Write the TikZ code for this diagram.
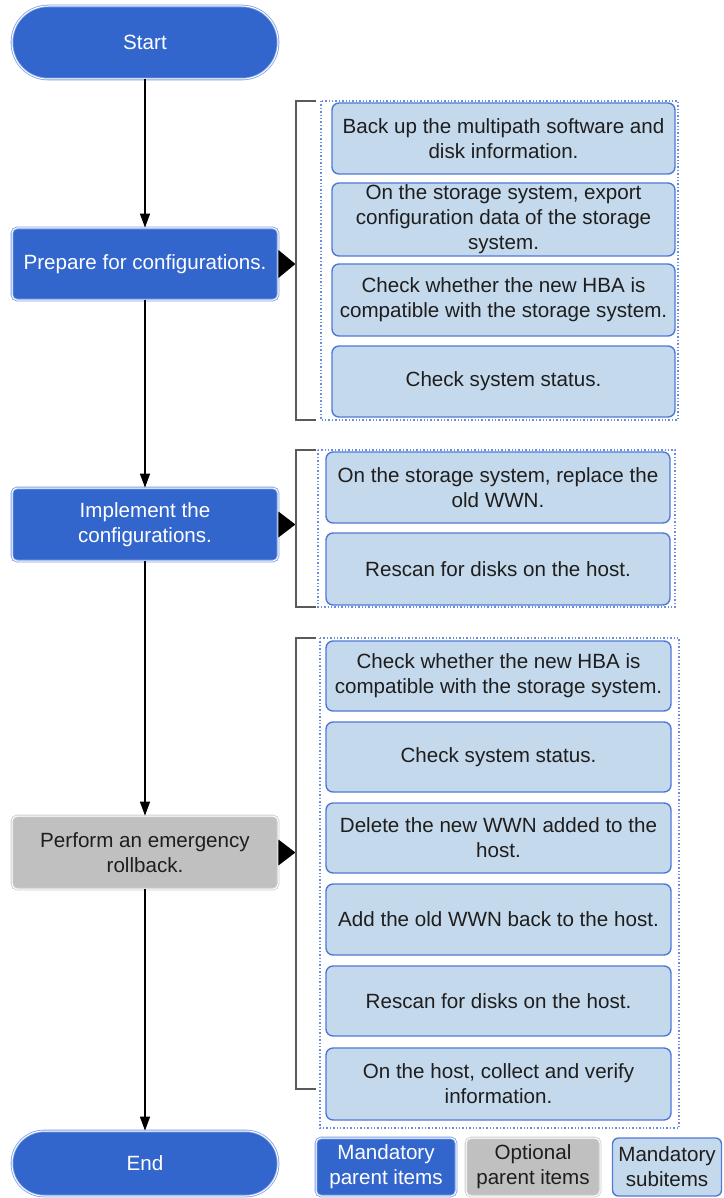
\documentclass[tikz,border=0pt]{standalone}
\usepackage{fontspec}
\setmainfont{Liberation Sans}
\usetikzlibrary{arrows.meta,calc}

\definecolor{mainblue}{RGB}{51,102,204}
\definecolor{edgeblue}{RGB}{125,160,228}
\definecolor{subfill}{RGB}{197,217,237}
\definecolor{subedge}{RGB}{78,122,214}
\definecolor{dotblue}{RGB}{105,140,228}
\definecolor{optfill}{RGB}{192,192,192}
\definecolor{optedge}{RGB}{205,205,205}
\definecolor{bracketgray}{RGB}{90,90,90}
\definecolor{textdark}{RGB}{30,30,30}

\tikzset{
  body/.style={font=\fontsize{20.6}{25}\selectfont, align=center, inner sep=0pt},
  parent/.style={body, rectangle, rounded corners=5pt, fill=mainblue,
    draw=edgeblue, double=white, double distance=1pt, line width=0.8pt, text=white},
  optional/.style={body, rectangle, rounded corners=5pt, fill=optfill,
    draw=optedge, double=white, double distance=1pt, line width=0.8pt, text=textdark},
  subitem/.style={body, rectangle, rounded corners=7pt, fill=subfill,
    draw=subedge, line width=1.4pt, text=textdark},
  holder/.style={draw=dotblue, dotted, line width=1.4pt},
  bracket/.style={draw=bracketgray, line width=1.6pt},
  flow/.style={-{Triangle[length=14pt,width=10pt]}, line width=1.3pt},
  pointer/.style={fill=black}
}

\begin{document}
\begin{tikzpicture}[x=1pt,y=-1pt]
\useasboundingbox (0,0) rectangle (723,1198);

% main flow
\node[parent, rounded corners=36pt, minimum width=266pt, minimum height=73pt] (start) at (145,42.5) {Start};
\node[parent, minimum width=266pt, minimum height=72pt] (prep) at (145,264) {Prepare for configurations.};
\node[parent, minimum width=266pt, minimum height=73pt] (impl) at (145,524.5) {Implement the\\configurations.};
\node[optional, minimum width=266pt, minimum height=73pt] (roll) at (145,852.5) {Perform an emergency\\rollback.};
\node[parent, rounded corners=32pt, minimum width=266pt, minimum height=65pt] (end) at (145,1163.5) {End};

\draw[flow] (start) -- (prep);
\draw[flow] (prep) -- (impl);
\draw[flow] (impl) -- (roll);
\draw[flow] (roll) -- (end);

% pointers towards the subitem groups
\fill[pointer] (prep.east) ++(0,-14) -- ++(17,14) -- ++(-17,14) -- cycle;
\fill[pointer] (impl.east) ++(0,-13) -- ++(17,13) -- ++(-17,13) -- cycle;
\fill[pointer] (roll.east) ++(0,-13) -- ++(17,13) -- ++(-17,13) -- cycle;

% group 1: preparation
\draw[bracket] (316,101) -- (296,101) -- (296,420) -- (316,420);
\draw[holder] (321,101) rectangle (678,420);
\node[subitem, minimum width=343pt, minimum height=71pt] (s1a) at (503.5,138.5) {Back up the multipath software and\\disk information.};
\node[subitem, minimum width=343pt, minimum height=73pt] (s1b) at (503.5,219.5) {On the storage system, export\\configuration data of the storage\\system.};
\node[subitem, minimum width=343pt, minimum height=72pt] (s1c) at (503.5,300) {Check whether the new HBA is\\compatible with the storage system.};
\node[subitem, minimum width=343pt, minimum height=71pt] (s1d) at (503.5,381.5) {Check system status.};

% group 2: implementation
\draw[bracket] (316,450) -- (296,450) -- (296,607) -- (316,607);
\draw[holder] (318,450) rectangle (675,607);
\node[subitem, minimum width=344pt, minimum height=71pt] (s2a) at (498,487.5) {On the storage system, replace the\\old WWN.};
\node[subitem, minimum width=344pt, minimum height=72pt] (s2b) at (498,569) {Rescan for disks on the host.};

% group 3: rollback
\draw[bracket] (316,638) -- (296,638) -- (296,1089) -- (316,1089);
\draw[holder] (320,638) rectangle (679,1128);
\node[subitem, minimum width=345pt, minimum height=70pt] (s3a) at (498.5,676) {Check whether the new HBA is\\compatible with the storage system.};
\node[subitem, minimum width=345pt, minimum height=70pt] (s3b) at (498.5,757) {Check system status.};
\node[subitem, minimum width=345pt, minimum height=70pt] (s3c) at (498.5,838) {Delete the new WWN added to the\\host.};
\node[subitem, minimum width=345pt, minimum height=71pt] (s3d) at (498.5,919.5) {Add the old WWN back to the host.};
\node[subitem, minimum width=345pt, minimum height=70pt] (s3e) at (498.5,1001) {Rescan for disks on the host.};
\node[subitem, minimum width=345pt, minimum height=72pt] (s3f) at (498.5,1084) {On the host, collect and verify\\information.};

% legend
\node[parent, minimum width=140pt, minimum height=58pt] (lg1) at (386,1167) {Mandatory\\parent items};
\node[optional, minimum width=134pt, minimum height=58pt] (lg2) at (533,1167) {Optional\\parent items};
\node[subitem, rounded corners=6pt, minimum width=109pt, minimum height=58pt] (lg3) at (667,1167) {Mandatory\\subitems};
\end{tikzpicture}
\end{document}
